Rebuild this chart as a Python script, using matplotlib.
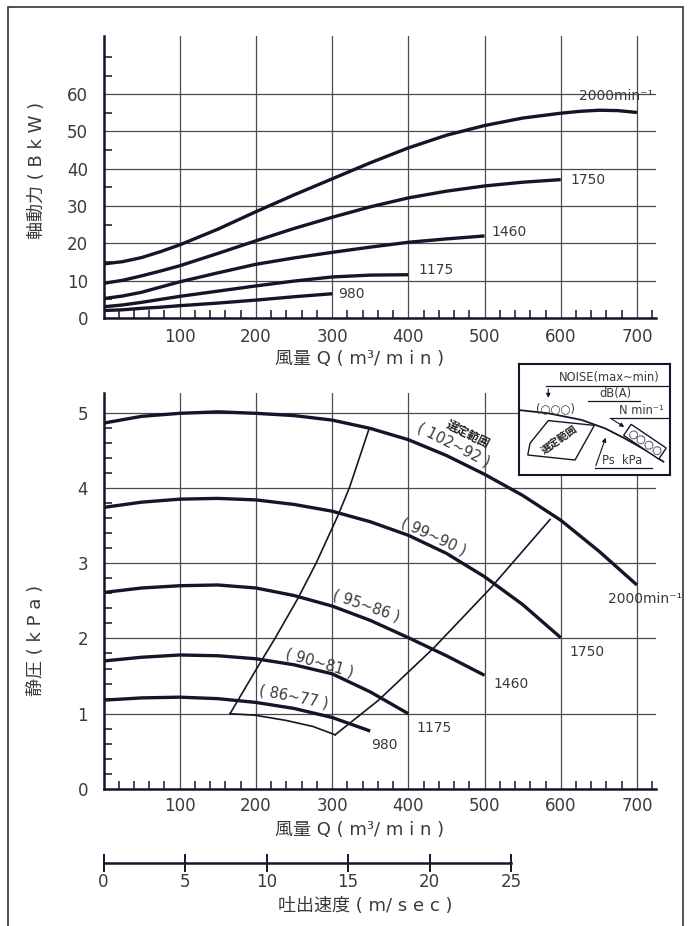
import matplotlib
matplotlib.use('Agg')
import matplotlib.pyplot as plt
from matplotlib.patches import Rectangle, Polygon

plt.rcParams['font.family'] = ['DejaVu Sans', 'Noto Sans CJK JP']

INK = '#15152a'
TXT = '#3a3a3a'
GRID = '#4a4a4a'

# ---- shaft power (BkW) vs air volume Q ----
q_2000 = [0, 25, 50, 75, 100, 150, 200, 250, 300, 350, 400, 450, 500, 550, 600, 625, 650, 675, 700]
p_2000 = [14.5, 15.1, 16.2, 17.8, 19.6, 23.8, 28.5, 33.0, 37.3, 41.6, 45.6, 49.0, 51.6, 53.6, 54.9, 55.4,
          55.7, 55.6, 55.1]
q_1750 = [0, 25, 50, 75, 100, 150, 200, 250, 300, 350, 400, 450, 500, 550, 600]
p_1750 = [9.3, 10.1, 11.3, 12.6, 14.0, 17.3, 20.7, 24.0, 27.0, 29.8, 32.2, 34.0, 35.4, 36.4, 37.1]
q_1460 = [0, 25, 50, 75, 100, 150, 200, 250, 300, 350, 400, 450, 500]
p_1460 = [5.2, 5.9, 6.9, 8.3, 9.7, 12.1, 14.4, 16.1, 17.6, 19.0, 20.3, 21.2, 22.0]
q_1175 = [0, 25, 50, 75, 100, 150, 200, 250, 300, 350, 400]
p_1175 = [3.0, 3.5, 4.2, 5.0, 5.8, 7.2, 8.6, 9.9, 11.0, 11.5, 11.6]
q_980 = [0, 25, 50, 75, 100, 150, 200, 250, 300]
p_980 = [2.0, 2.2, 2.6, 2.9, 3.3, 4.0, 4.8, 5.7, 6.5]

# ---- static pressure (kPa) vs air volume Q ----
qs_2000 = [0, 50, 100, 150, 200, 250, 300, 350, 400, 450, 500, 550, 600, 650, 700]
s_2000 = [4.86, 4.95, 4.99, 5.01, 4.99, 4.96, 4.90, 4.79, 4.64, 4.43, 4.18, 3.90, 3.57, 3.16, 2.71]
qs_1750 = [0, 50, 100, 150, 200, 250, 300, 350, 400, 450, 500, 550, 600]
s_1750 = [3.74, 3.81, 3.85, 3.86, 3.84, 3.78, 3.69, 3.55, 3.37, 3.13, 2.82, 2.45, 2.01]
qs_1460 = [0, 50, 100, 150, 200, 250, 300, 350, 400, 450, 500]
s_1460 = [2.61, 2.67, 2.70, 2.71, 2.67, 2.57, 2.43, 2.24, 2.01, 1.77, 1.51]
qs_1175 = [0, 50, 100, 150, 200, 250, 300, 350, 400]
s_1175 = [1.70, 1.75, 1.78, 1.77, 1.73, 1.65, 1.53, 1.29, 1.00]
qs_980 = [0, 50, 100, 150, 200, 250, 300, 350]
s_980 = [1.18, 1.21, 1.22, 1.20, 1.15, 1.07, 0.95, 0.77]

# selection range outline (left, bottom, right edges)
rng_left_q = [348, 323, 308, 279, 255, 225, 204, 166]
rng_left_p = [4.77, 4.01, 3.64, 3.00, 2.53, 2.00, 1.65, 1.00]
rng_bot_q = [166, 199, 240, 275, 304]
rng_bot_p = [1.00, 0.98, 0.91, 0.83, 0.72]
rng_right_q = [304, 361, 433, 509, 586]
rng_right_p = [0.72, 1.18, 1.87, 2.68, 3.58]

speeds = ['2000min⁻¹', '1750', '1460', '1175', '980']
noise = ['( 102~92 )', '( 99~90 )', '( 95~86 )', '( 90~81 )', '( 86~77 )']

q_ticks = [100, 200, 300, 400, 500, 600, 700]
v_ticks = [0, 5, 10, 15, 20, 25]

W, H = 688, 926
fig = plt.figure(figsize=(W / 100, H / 100), dpi=100)
fig.add_artist(Rectangle((8 / W, -0.05), 675 / W, 1.05 - 7 / H, transform=fig.transFigure,
                         fill=False, lw=1.2, ec='#333333'))


def frame(ax, ymajor, yminor, ymax, xpad):
    ax.set_xlim(0, 725)
    ax.set_ylim(0, ymax)
    for s in ['top', 'right']:
        ax.spines[s].set_visible(False)
    for s in ['left', 'bottom']:
        ax.spines[s].set_linewidth(1.8)
        ax.spines[s].set_color(INK)
    ax.set_xticks(q_ticks)
    ax.set_xticks([x for x in range(20, 721, 20) if x % 100], minor=True)
    ax.set_yticks(ymajor)
    ax.set_yticks(yminor, minor=True)
    ax.tick_params(which='major', length=0, labelsize=12, colors=TXT)
    ax.tick_params(axis='x', which='major', pad=xpad)
    ax.tick_params(axis='y', which='major', pad=11)
    ax.tick_params(which='minor', direction='in', length=6, width=1.1, color=INK)
    ax.grid(which='major', color=GRID, lw=0.9)
    ax.set_axisbelow(True)


# top chart
ax1 = fig.add_axes([103.5 / W, 1 - 318 / H, 552.5 / W, 282 / H])
frame(ax1, [0, 10, 20, 30, 40, 50, 60], [5, 15, 25, 35, 45, 55, 65, 70], 75.6, 7)
for q, p in [(q_2000, p_2000), (q_1750, p_1750), (q_1460, p_1460), (q_1175, p_1175), (q_980, p_980)]:
    ax1.plot(q, p, color=INK, lw=2.4, solid_capstyle='butt', solid_joinstyle='round')
top_lab_pos = [(624, 59.5), (613, 37), (509, 23), (413, 13), (308, 6.5)]
for lab, (x, y) in zip(speeds, top_lab_pos):
    ax1.text(x, y, lab, fontsize=10, color=TXT, va='center', ha='left')

# bottom chart
ax2 = fig.add_axes([103.5 / W, 1 - 789 / H, 552.5 / W, 396 / H])
frame(ax2, [0, 1, 2, 3, 4, 5], [v / 10 for v in range(2, 52, 2) if v % 10], 5.26, 6)
for q, s in [(qs_2000, s_2000), (qs_1750, s_1750), (qs_1460, s_1460), (qs_1175, s_1175), (qs_980, s_980)]:
    ax2.plot(q, s, color=INK, lw=2.4, solid_capstyle='butt', solid_joinstyle='round')
for qq, pp in [(rng_left_q, rng_left_p), (rng_bot_q, rng_bot_p), (rng_right_q, rng_right_p)]:
    ax2.plot(qq, pp, color=INK, lw=1.2)
bot_lab_pos = [(662, 2.53), (612, 1.82), (512, 1.40), (411, 0.81), (351, 0.58)]
for lab, (x, y) in zip(speeds, bot_lab_pos):
    ax2.text(x, y, lab, fontsize=10, color=TXT, va='center', ha='left')
noise_pos = [(460, 4.57, -27), (433, 3.35, -25), (345, 2.43, -19), (284, 1.67, -16), (249, 1.23, -11)]
for lab, (x, y, r) in zip(noise, noise_pos):
    ax2.text(x, y, lab, fontsize=10.5, color=TXT, rotation=r, rotation_mode='anchor',
             ha='center', va='center')
ax2.text(478, 4.71, '選定範囲', fontsize=8.5, color='#222', fontweight='bold', rotation=-27,
         rotation_mode='anchor', ha='center', va='center')

# axis titles
fig.text(360 / W, 1 - 359 / H, '風量 Q ( m³/ m i n )', fontsize=13, color=TXT, ha='center', va='center')
fig.text(360 / W, 1 - 830 / H, '風量 Q ( m³/ m i n )', fontsize=13, color=TXT, ha='center', va='center')
fig.text(37 / W, 1 - 170 / H, '軸動力 ( B k W )', fontsize=13, color=TXT, rotation=90, ha='center', va='center')
fig.text(36 / W, 1 - 640 / H, '静圧 ( k P a )', fontsize=13, color=TXT, rotation=90, ha='center', va='center')

# discharge velocity scale
ax3 = fig.add_axes([103.5 / W, 1 - 863 / H, 407.5 / W, 0.001])
ax3.set_xlim(0, 25)
ax3.set_yticks([])
for s in ['top', 'right', 'left']:
    ax3.spines[s].set_visible(False)
ax3.spines['bottom'].set_linewidth(1.8)
ax3.spines['bottom'].set_color(INK)
ax3.set_xticks(v_ticks)
ax3.tick_params(axis='x', direction='inout', length=13, width=1.4, color=INK,
                labelsize=12, labelcolor=TXT, pad=1)
fig.text(365 / W, 1 - 906 / H, '吐出速度 ( m/ s e c )', fontsize=13, color=TXT, ha='center', va='center')

# legend box
ax4 = fig.add_axes([519 / W, 1 - 475 / H, 151 / W, 111 / H], zorder=5)
ax4.set_facecolor('white')
ax4.set_xlim(0, 1)
ax4.set_ylim(0, 1)
ax4.set_xticks([])
ax4.set_yticks([])
for s in ax4.spines.values():
    s.set_linewidth(1.5)
    s.set_color(INK)
ax4.plot([0.0, 0.194, 0.415, 0.57, 0.70, 0.856, 0.956],
         [0.585, 0.556, 0.496, 0.42, 0.33, 0.21, 0.12], color=INK, lw=1.3)
ax4.text(0.60, 0.88, 'NOISE(max~min)', fontsize=8.3, color=TXT, ha='center', va='center')
ax4.plot([0.182, 0.985], [0.80, 0.80], color=INK, lw=0.9)
ax4.annotate('', xy=(0.194, 0.67), xytext=(0.194, 0.80),
             arrowprops=dict(arrowstyle='-|>', lw=0.8, color=INK, mutation_scale=6))
ax4.text(0.636, 0.73, 'dB(A)', fontsize=8.3, color=TXT, ha='center', va='center')
ax4.plot([0.46, 0.80], [0.665, 0.665], color=INK, lw=0.9)
ax4.text(0.244, 0.60, '(○○○)', fontsize=8.3, color=TXT, ha='center', va='center')
ax4.text(0.807, 0.585, 'N min⁻¹', fontsize=8.3, color=TXT, ha='center', va='center')
ax4.plot([0.60, 0.99], [0.515, 0.515], color=INK, lw=0.9)
ax4.annotate('', xy=(0.713, 0.42), xytext=(0.60, 0.515),
             arrowprops=dict(arrowstyle='-|>', lw=0.8, color=INK, mutation_scale=6))
ax4.add_patch(Polygon([(0.194, 0.49), (0.499, 0.447), (0.371, 0.135), (0.058, 0.18), (0.073, 0.286)],
                      closed=True, fill=False, ec=INK, lw=1.0))
ax4.text(0.27, 0.315, '選定範囲', fontsize=7.5, color='#222', fontweight='bold', rotation=35,
         ha='center', va='center')
ax4.text(0.834, 0.30, '○○○○', fontsize=8, color=INK, rotation=-34, ha='center', va='center',
         bbox=dict(boxstyle='square,pad=0.15', fc='white', ec=INK, lw=1.0))
ax4.text(0.685, 0.13, 'Ps  kPa', fontsize=8.3, color=TXT, ha='center', va='center')
ax4.plot([0.503, 0.88], [0.06, 0.06], color=INK, lw=0.9)
ax4.annotate('', xy=(0.58, 0.36), xytext=(0.503, 0.06),
             arrowprops=dict(arrowstyle='-|>', lw=0.8, color=INK, mutation_scale=6))

fig.savefig('out.png', dpi=100, facecolor='white')
